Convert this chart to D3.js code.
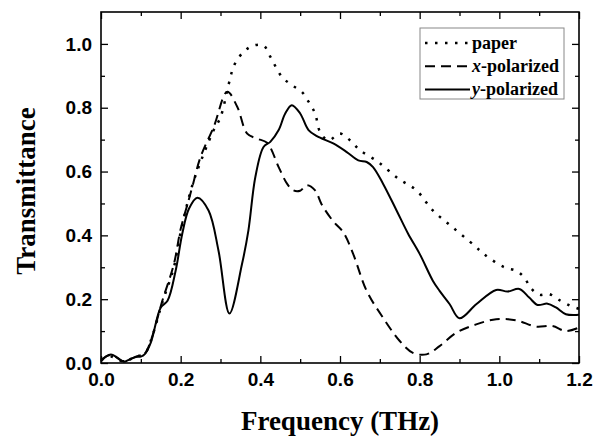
<!DOCTYPE html>
<html>
<head>
<meta charset="utf-8">
<script src="https://cdn.jsdelivr.net/npm/d3@7"></script>
<style>
  body { margin: 0; background: #fff; }
  svg { display: block; }
</style>
</head>
<body>
<div id="chart"></div>
<script>
// Data
const paperFreq = [0, 0.025, 0.057, 0.0875, 0.11, 0.125, 0.154, 0.183, 0.2, 0.229, 0.258, 0.283, 0.3, 0.321, 0.335, 0.358, 0.383, 0.408, 0.425, 0.454, 0.479, 0.504, 0.521, 0.5375, 0.55, 0.571, 0.6, 0.625, 0.65, 0.696, 0.746, 0.792, 0.833, 0.883, 0.9375, 0.9625, 1.0125, 1.042, 1.0625, 1.079, 1.1, 1.125, 1.154, 1.179, 1.2];
const paperT = [0.01, 0.02, 0.005, 0.02, 0.03, 0.07, 0.19, 0.3, 0.41, 0.556, 0.656, 0.73, 0.77, 0.876, 0.935, 0.975, 0.995, 0.995, 0.96, 0.897, 0.871, 0.85, 0.819, 0.782, 0.724, 0.698, 0.719, 0.698, 0.667, 0.63, 0.578, 0.541, 0.478, 0.425, 0.368, 0.34, 0.3, 0.289, 0.268, 0.235, 0.214, 0.216, 0.195, 0.179, 0.17];

const xPolFreq = [0, 0.025, 0.057, 0.0875, 0.11, 0.125, 0.154, 0.183, 0.2, 0.22, 0.229, 0.25, 0.283, 0.317, 0.342, 0.367, 0.392, 0.417, 0.446, 0.467, 0.483, 0.5, 0.517, 0.5375, 0.554, 0.583, 0.608, 0.633, 0.667, 0.708, 0.75, 0.783, 0.817, 0.85, 0.892, 0.942, 0.992, 1.042, 1.092, 1.133, 1.167, 1.2];
const xPolT = [0.01, 0.025, 0.006, 0.02, 0.03, 0.07, 0.195, 0.31, 0.42, 0.51, 0.551, 0.646, 0.74, 0.85, 0.803, 0.719, 0.703, 0.69, 0.614, 0.562, 0.541, 0.54, 0.557, 0.541, 0.497, 0.444, 0.41, 0.342, 0.226, 0.142, 0.069, 0.032, 0.027, 0.053, 0.095, 0.121, 0.137, 0.134, 0.114, 0.116, 0.1, 0.111];

const yPolFreq = [0, 0.012, 0.025, 0.04, 0.057, 0.07, 0.0875, 0.1, 0.11, 0.125, 0.15, 0.167, 0.1875, 0.204, 0.221, 0.242, 0.27, 0.295, 0.3225, 0.354, 0.37, 0.3875, 0.408, 0.425, 0.446, 0.4625, 0.479, 0.5, 0.521, 0.542, 0.583, 0.617, 0.646, 0.667, 0.683, 0.708, 0.742, 0.771, 0.8, 0.833, 0.85, 0.875, 0.9, 0.942, 0.992, 1.021, 1.05, 1.075, 1.096, 1.121, 1.142, 1.167, 1.2];
const yPolT = [0.005, 0.02, 0.027, 0.018, 0.004, 0.01, 0.019, 0.02, 0.028, 0.064, 0.174, 0.195, 0.29, 0.405, 0.484, 0.518, 0.478, 0.352, 0.155, 0.31, 0.415, 0.583, 0.677, 0.693, 0.73, 0.782, 0.808, 0.782, 0.73, 0.711, 0.688, 0.661, 0.635, 0.63, 0.614, 0.562, 0.478, 0.405, 0.342, 0.258, 0.226, 0.185, 0.14, 0.184, 0.229, 0.224, 0.232, 0.205, 0.182, 0.186, 0.174, 0.153, 0.151];

const xMajorTicks = [0, 0.2, 0.4, 0.6, 0.8, 1.0, 1.2];
const xMinorTicks = [0.1, 0.3, 0.5, 0.7, 0.9, 1.1];
const yMajorTicks = [0, 0.2, 0.4, 0.6, 0.8, 1.0];
const yMinorTicks = [0.1, 0.3, 0.5, 0.7, 0.9];

const series = [
  { name: "paper", italic: "", freq: paperFreq, t: paperT, dash: "2.5,7.5", w: 2.5 },
  { name: "-polarized", italic: "x", freq: xPolFreq, t: xPolT, dash: "10,6", w: 2 },
  { name: "-polarized", italic: "y", freq: yPolFreq, t: yPolT, dash: null, w: 2 },
];

(() => {
  const margin = { top: 12, right: 24, bottom: 73, left: 101 };
  const width = 603 - margin.left - margin.right;
  const height = 436 - margin.top - margin.bottom;

  const svg = d3
    .select("#chart")
    .append("svg")
    .attr("width", 603)
    .attr("height", 436)
    .append("g")
    .attr("transform", `translate(${margin.left},${margin.top})`);

  const x = d3.scaleLinear().domain([0, 1.2]).range([0, width]);
  const y = d3.scaleLinear().domain([0, 1.1]).range([height, 0]);

  const tickFont = "'Liberation Sans', Arial, sans-serif";
  const titleFont = "'Liberation Serif', 'Times New Roman', serif";

  // Axes, ticks pointing inward on all four sides
  const bottom = svg
    .append("g")
    .attr("transform", `translate(0,${height})`)
    .call(d3.axisBottom(x).tickValues(xMajorTicks).tickSize(-7).tickPadding(10).tickFormat(d3.format(".1f")));
  svg
    .append("g")
    .attr("transform", `translate(0,${height})`)
    .call(d3.axisBottom(x).tickValues(xMinorTicks).tickSize(-4).tickFormat(""));

  const left = svg
    .append("g")
    .call(d3.axisLeft(y).tickValues(yMajorTicks).tickSize(-7).tickPadding(9).tickFormat(d3.format(".1f")));
  svg
    .append("g")
    .call(d3.axisLeft(y).tickValues(yMinorTicks).tickSize(-4).tickFormat(""));

  svg.append("g").call(d3.axisTop(x).tickValues(xMajorTicks).tickSize(-7).tickFormat(""));
  svg.append("g").call(d3.axisTop(x).tickValues(xMinorTicks).tickSize(-4).tickFormat(""));
  svg
    .append("g")
    .attr("transform", `translate(${width},0)`)
    .call(d3.axisRight(y).tickValues(yMajorTicks).tickSize(-7).tickFormat(""));
  svg
    .append("g")
    .attr("transform", `translate(${width},0)`)
    .call(d3.axisRight(y).tickValues(yMinorTicks).tickSize(-4).tickFormat(""));

  svg.selectAll(".domain").remove();
  svg.selectAll(".tick line").attr("stroke", "#000").attr("stroke-width", 1.3);

  [bottom, left].forEach((g) =>
    g
      .selectAll("text")
      .attr("fill", "#000")
      .style("font-family", tickFont)
      .style("font-weight", "bold")
      .style("font-size", "19px")
  );

  // Frame
  svg
    .append("rect")
    .attr("width", width)
    .attr("height", height)
    .attr("fill", "none")
    .attr("stroke", "#000")
    .attr("stroke-width", 1.6);

  // Curves
  const line = d3
    .line()
    .x((d) => x(d[0]))
    .y((d) => y(d[1]))
    .curve(d3.curveCatmullRom.alpha(0.5));

  series.forEach((s) => {
    svg
      .append("path")
      .datum(s.freq.map((f, i) => [f, s.t[i]]))
      .attr("fill", "none")
      .attr("stroke", "#000")
      .attr("stroke-width", s.w)
      .attr("stroke-dasharray", s.dash)
      .attr("d", line);
  });

  // Axis titles
  svg
    .append("text")
    .attr("x", width / 2)
    .attr("y", 418)
    .attr("text-anchor", "middle")
    .style("font-family", titleFont)
    .style("font-weight", "bold")
    .style("font-size", "27px")
    .text("Frequency (THz)");

  svg
    .append("text")
    .attr("transform", "rotate(-90)")
    .attr("x", -179)
    .attr("y", -66)
    .attr("text-anchor", "middle")
    .style("font-family", titleFont)
    .style("font-weight", "bold")
    .style("font-size", "27px")
    .text("Transmittance");

  // Legend
  const legend = svg.append("g").attr("transform", `translate(${420 - margin.left},${28 - margin.top})`);
  legend
    .append("rect")
    .attr("width", 144)
    .attr("height", 71)
    .attr("fill", "#fff")
    .attr("stroke", "#888")
    .attr("stroke-width", 1);

  series.forEach((s, i) => {
    const yy = 15 + i * 23.3;
    legend
      .append("line")
      .attr("x1", 5)
      .attr("x2", 50)
      .attr("y1", yy)
      .attr("y2", yy)
      .attr("stroke", "#000")
      .attr("stroke-width", s.w)
      .attr("stroke-dasharray", s.dash);
    const t = legend
      .append("text")
      .attr("x", 52)
      .attr("y", yy + 5.5)
      .style("font-family", titleFont)
      .style("font-weight", "bold")
      .style("font-size", "18px");
    if (s.italic) t.append("tspan").style("font-style", "italic").text(s.italic);
    t.append("tspan").text(s.name);
  });
})();
</script>
</body>
</html>
